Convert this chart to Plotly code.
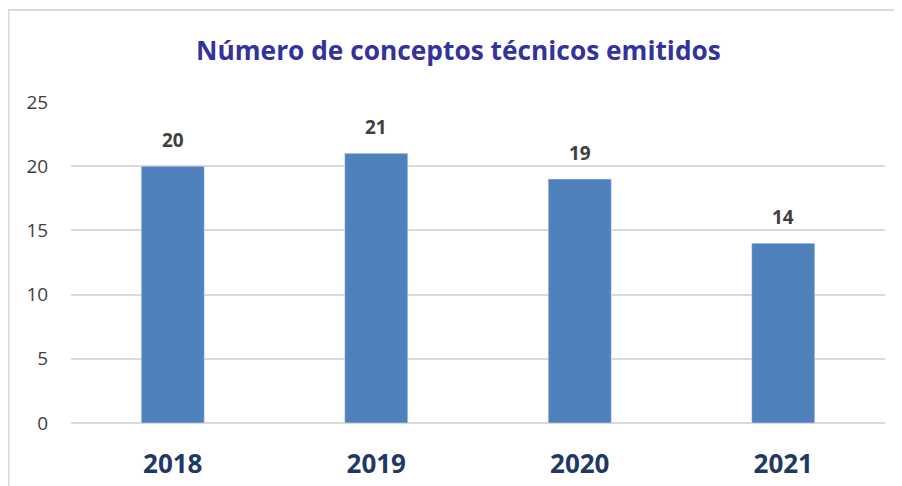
import plotly.graph_objects as go

years = ["2018", "2019", "2020", "2021"]
conceptos = [20, 21, 19, 14]
y_ticks = [0, 5, 10, 15, 20, 25]

title_text = "Número de conceptos técnicos emitidos"

# page body has an 8px margin, so the figure is a bit smaller than the window
W, H = 894, 478
L, R, T, B = 63, 17, 94, 63
plot_w = W - L - R
plot_h = H - T - B

fig = go.Figure()

fig.add_trace(
    go.Bar(
        x=years,
        y=conceptos,
        marker_color="#4F81BD",
        width=0.31,
    )
)

# data labels above the bars (x as category index so they don't stretch the axis)
for i, val in enumerate(conceptos):
    fig.add_annotation(
        x=i, y=val, xref="x", yref="y",
        text=f"<b>{val}</b>",
        showarrow=False, yshift=26,
        font=dict(family="Open Sans", size=19, color="#404040"),
    )

# chart border, runs off the right/bottom edge like the original
fig.add_shape(
    type="rect", xref="paper", yref="paper",
    x0=(0.5 - L) / plot_w, x1=1.2,
    y0=-0.5, y1=(plot_h + T - 2) / plot_h,
    line=dict(color="#D9D9D9", width=2),
    fillcolor="rgba(0,0,0,0)", layer="below",
)

fig.update_layout(
    width=W,
    height=H,
    margin=dict(l=L, r=R, t=T, b=B),
    paper_bgcolor="white",
    plot_bgcolor="white",
    showlegend=False,
    title=dict(
        text=f"<b>{title_text}</b>",
        x=450.5 / W, xanchor="center",
        y=1 - 43 / H, yanchor="middle",
        font=dict(family="Open Sans", size=26.3, color="#333399"),
    ),
)

fig.update_xaxes(
    type="category",
    range=[-0.5, 3.5],
    automargin=False,
    showgrid=False,
    showline=False,
    ticks="outside", ticklen=18, tickcolor="rgba(0,0,0,0)",
    tickfont=dict(family="Open Sans", size=26, color="#1F3864", weight="bold"),
)

fig.update_yaxes(
    range=[0, 25],
    automargin=False,
    tickvals=y_ticks,
    showgrid=True, gridcolor="#D9D9D9", gridwidth=1.5,
    zeroline=True, zerolinecolor="#D9D9D9", zerolinewidth=2,
    ticks="outside", ticklen=18, tickcolor="rgba(0,0,0,0)",
    tickfont=dict(family="Open Sans", size=19, color="#404040"),
)

fig.write_html("out.html")
